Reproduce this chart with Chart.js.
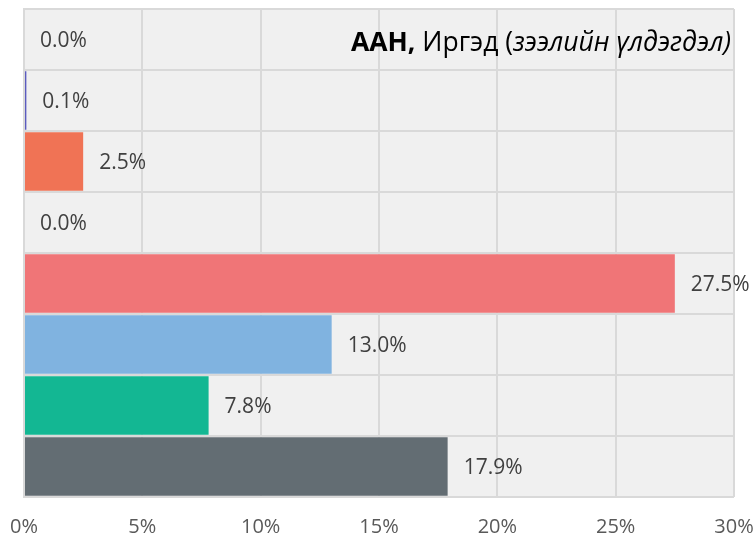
<!DOCTYPE html>
<html>
<head>
<meta charset="utf-8">
<script src="https://cdn.jsdelivr.net/npm/chart.js@4"></script>
<style>
  body { margin: 0; background: #fff; }
  #wrap { position: relative; width: 756px; height: 541px; }
  #title {
    position: absolute; right: 25px; top: 25px;
    font-family: "Open Sans", sans-serif; font-size: 26.5px; line-height: 32px;
    color: #000; white-space: nowrap;
  }
  #title b { font-weight: 700; }
</style>
</head>
<body>
<div id="wrap">
  <canvas id="chart" width="756" height="541"></canvas>
  <div id="title"><b>ААН,</b> Иргэд (<i>зээлийн үлдэгдэл)</i></div>
</div>
<script>
// categories are not shown in the picture, only the bars
const categories = ['c1', 'c2', 'c3', 'c4', 'c5', 'c6', 'c7', 'c8'];
const shares = [0.0, 0.1, 2.5, 0.0, 27.5, 13.0, 7.8, 17.9];
const barColors = ['#7f7f7f', '#5b5bbf', '#f07355', '#bfbfbf', '#f07577', '#80b3e0', '#13b793', '#636d73'];
const xTicks = [0, 5, 10, 15, 20, 25, 30];

const gridColor = '#d9d9d9';

// grey plot area
const plotBg = {
    id: 'plotBg',
    beforeDraw(chart) {
        const { ctx, chartArea: a } = chart;
        ctx.save();
        ctx.fillStyle = '#f0f0f0';
        ctx.fillRect(a.left, a.top, a.right - a.left, a.bottom - a.top);
        ctx.restore();
    }
};

// value labels just after the end of each bar
const valueLabels = {
    id: 'valueLabels',
    afterDatasetsDraw(chart) {
        const ctx = chart.ctx;
        const meta = chart.getDatasetMeta(0);
        ctx.save();
        ctx.font = '21px "Open Sans"';
        ctx.fillStyle = '#404040';
        ctx.textAlign = 'left';
        ctx.textBaseline = 'middle';
        meta.data.forEach((bar, i) => {
            ctx.fillText(shares[i].toFixed(1) + '%', bar.x + 16, bar.y + 2);
        });
        ctx.restore();
    }
};

new Chart(document.getElementById('chart'), {
    type: 'bar',
    data: {
        labels: categories,
        datasets: [{
            data: shares,
            backgroundColor: barColors,
            borderWidth: 0,
            barPercentage: 0.96,
            categoryPercentage: 1.0
        }]
    },
    options: {
        indexAxis: 'y',
        responsive: false,
        devicePixelRatio: 1,
        animation: false,
        layout: { padding: { left: 24, top: 9, right: 22, bottom: 0 } },
        plugins: {
            legend: { display: false },
            tooltip: { enabled: false }
        },
        scales: {
            x: {
                min: 0, max: 30,
                afterBuildTicks(scale) { scale.ticks = xTicks.map(v => ({ value: v })); },
                afterFit(scale) {
                    scale.height = 44;
                    scale.paddingLeft = 0;
                    scale.paddingRight = 0;
                },
                ticks: {
                    callback: v => v + '%',
                    color: '#595959',
                    font: { family: 'Open Sans', size: 20 },
                    padding: 18,
                    maxRotation: 0
                },
                grid: { color: gridColor, lineWidth: 2, drawTicks: false },
                border: { display: false }
            },
            y: {
                ticks: { display: false },
                grid: { offset: true, color: gridColor, lineWidth: 2, drawTicks: false },
                border: { color: gridColor, width: 2 }
            }
        }
    },
    plugins: [plotBg, valueLabels]
});
</script>
</body>
</html>
